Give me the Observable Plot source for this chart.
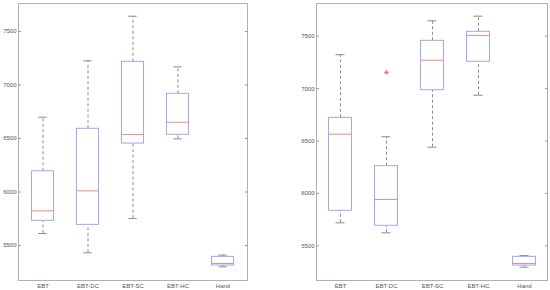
<!DOCTYPE html>
<html><head><meta charset="utf-8">
<script src="https://cdn.jsdelivr.net/npm/d3@7"></script>
<script src="https://cdn.jsdelivr.net/npm/@observablehq/plot@0.6"></script>
<style>
body{margin:0;background:#fff;}
#wrap{display:flex;width:550px;height:290px;}
</style></head>
<body><div id="wrap"></div>
<script>
const categories = ["EBT","EBT-DC","EBT-SC","EBT-HC","Hand"];
const yTicks = [5500,6000,6500,7000,7500];

// Left panel summary stats
const leftLowWhisker = [5612,5432,5752,6497,5301];
const leftQ1         = [5731,5693,6453,6535,5313];
const leftMedian     = [5824,6011,6537,6652,5332];
const leftQ3         = [6194,6591,7217,6918,5394];
const leftHighWhisker= [6699,7226,7643,7170,5410];
const leftOutlierCat = [];
const leftOutlierVal = [];

// Right panel summary stats
const rightLowWhisker = [5719,5624,6441,6937,5296];
const rightQ1         = [5834,5691,6985,7256,5312];
const rightMedian     = [6565,5942,7271,7507,5331];
const rightQ3         = [6721,6260,7456,7542,5395];
const rightHighWhisker= [7323,6540,7647,7691,5407];
const rightOutlierCat = ["EBT-DC"];
const rightOutlierVal = [7154];

function panel(lo,q1,med,q3,hi,oc,ov,domain,margins){
  const rows = categories.map((c,i)=>({c,lo:lo[i],q1:q1[i],med:med[i],q3:q3[i],hi:hi[i]}));
  const outs = oc.map((c,i)=>({c,v:ov[i]}));
  const width = 275;
  const bw = (width - margins.left - margins.right)/categories.length;
  return Plot.plot({
    width, height:290,
    marginLeft:margins.left, marginRight:margins.right, marginTop:3, marginBottom:10,
    style:{fontFamily:"Liberation Sans, Arial, sans-serif", fontSize:"6px", color:"#555", background:"#fff"},
    x:{domain:categories, padding:0, axis:null, label:null},
    y:{domain, axis:null, label:null},
    marks:[
      Plot.frame({stroke:"#b0b0b0"}),
      Plot.axisY({ticks:yTicks, tickSize:-3, tickPadding:5, stroke:"#999", tickFormat:d=>String(d), label:null}),
      Plot.axisY({anchor:"right", ticks:yTicks, tickSize:-3, tickFormat:()=>"", stroke:"#999", label:null}),
      Plot.axisX({tickSize:0, tickPadding:3, fontSize:6, label:null}),
      Plot.ruleX(rows,{x:"c", y1:"q3", y2:"hi", stroke:"#8c8c8c", strokeDasharray:"3,2.5"}),
      Plot.ruleX(rows,{x:"c", y1:"lo", y2:"q1", stroke:"#8c8c8c", strokeDasharray:"3,2.5"}),
      Plot.tickY(rows,{x:"c", y:"hi", stroke:"#8c8c8c", insetLeft:bw*0.4, insetRight:bw*0.4}),
      Plot.tickY(rows,{x:"c", y:"lo", stroke:"#8c8c8c", insetLeft:bw*0.4, insetRight:bw*0.4}),
      Plot.barY(rows,{x:"c", y1:"q1", y2:"q3", fill:"white", stroke:"#a4a4f0", insetLeft:bw*0.25, insetRight:bw*0.25}),
      Plot.tickY(rows,{x:"c", y:"med", stroke:"#f08a8a", insetLeft:bw*0.25, insetRight:bw*0.25}),
      Plot.dot(outs,{x:"c", y:"v", symbol:"plus", r:1.6, stroke:"#f07070"})
    ]
  });
}

const wrap = document.getElementById("wrap");
wrap.append(panel(leftLowWhisker,leftQ1,leftMedian,leftQ3,leftHighWhisker,leftOutlierCat,leftOutlierVal,[5173,7762],{left:18,right:28}));
wrap.append(panel(rightLowWhisker,rightQ1,rightMedian,rightQ3,rightHighWhisker,rightOutlierCat,rightOutlierVal,[5169,7812],{left:41,right:3}));
</script>
</body></html>
